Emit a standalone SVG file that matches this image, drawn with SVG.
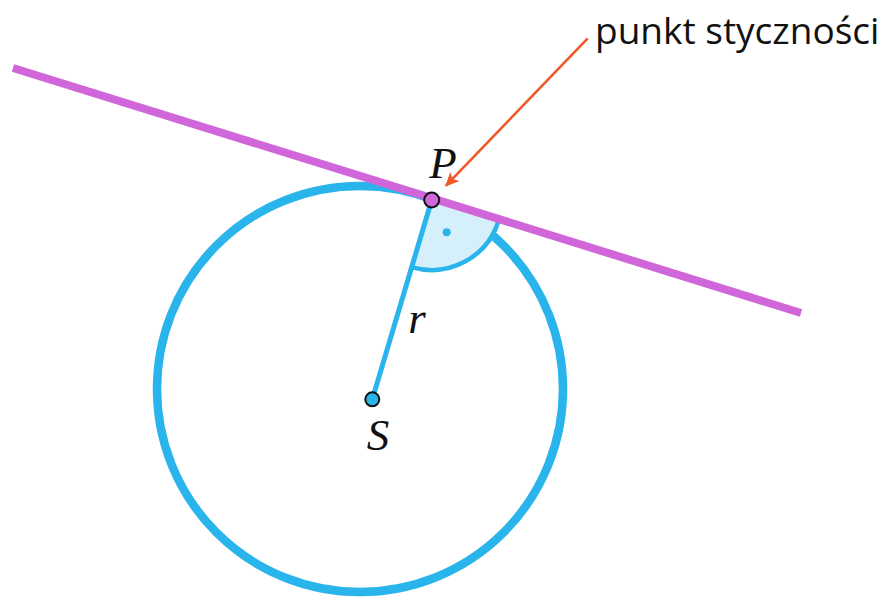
<svg xmlns="http://www.w3.org/2000/svg" width="882" height="597" viewBox="0 0 882 597">
  <defs>
    <marker id="arrowhead" viewBox="0 0 10 10" refX="9" refY="5" markerWidth="5.5" markerHeight="5.5" orient="auto" markerUnits="strokeWidth">
      <path d="M0,0.5 L10,5 L0,9.5 L2.5,5 Z" fill="#f05a28"/>
    </marker>
  </defs>
  <style>
    .blue { stroke: #2ab4ec; fill: none; }
    .math { font-family: "Liberation Serif", "DejaVu Serif", serif; font-style: italic; font-size: 45px; fill: #111; }
    .label { font-family: "Open Sans", "Noto Sans", sans-serif; font-size: 37px; fill: #111; }
  </style>
  <rect width="882" height="597" fill="#ffffff"/>

  <g id="circle">
    <circle cx="360" cy="389" r="203" class="blue" stroke-width="8.5"/>
  </g>

  <g id="right-angle">
    <path d="M431.7,200 L411.7,267.1 A70,70 0 0 0 498.8,220 Z" fill="#d5f0fb" stroke="none"/>
    <path d="M411.7,267.1 A70,70 0 0 0 498.8,220" class="blue" stroke-width="4.5"/>
    <circle cx="446.7" cy="232.3" r="4" fill="#2ab4ec"/>
  </g>

  <g id="connectors">
    <line id="radius" x1="372.3" y1="399.3" x2="431.7" y2="200" class="blue" stroke-width="5"/>
    <line id="tangent" x1="13" y1="68" x2="801" y2="313" stroke="#d066d9" stroke-width="8"/>
    <line id="pointer" x1="587.7" y1="38.3" x2="446" y2="185.7" stroke="#f05a28" stroke-width="2.6" marker-end="url(#arrowhead)"/>
  </g>

  <g id="node-S">
    <circle cx="372.3" cy="399.3" r="7" fill="#2ab4ec" stroke="#111" stroke-width="2"/>
    <text x="378" y="450" class="math" text-anchor="middle">S</text>
  </g>

  <g id="node-P">
    <circle cx="431.7" cy="200" r="7.5" fill="#d066d9" stroke="#111" stroke-width="2"/>
    <text x="443" y="178" class="math" text-anchor="middle">P</text>
  </g>

  <g id="label-r">
    <text x="417" y="333" class="math" text-anchor="middle">r</text>
  </g>

  <g id="label-tangent-point">
    <text x="595" y="44" class="label">punkt styczności</text>
  </g>
</svg>
